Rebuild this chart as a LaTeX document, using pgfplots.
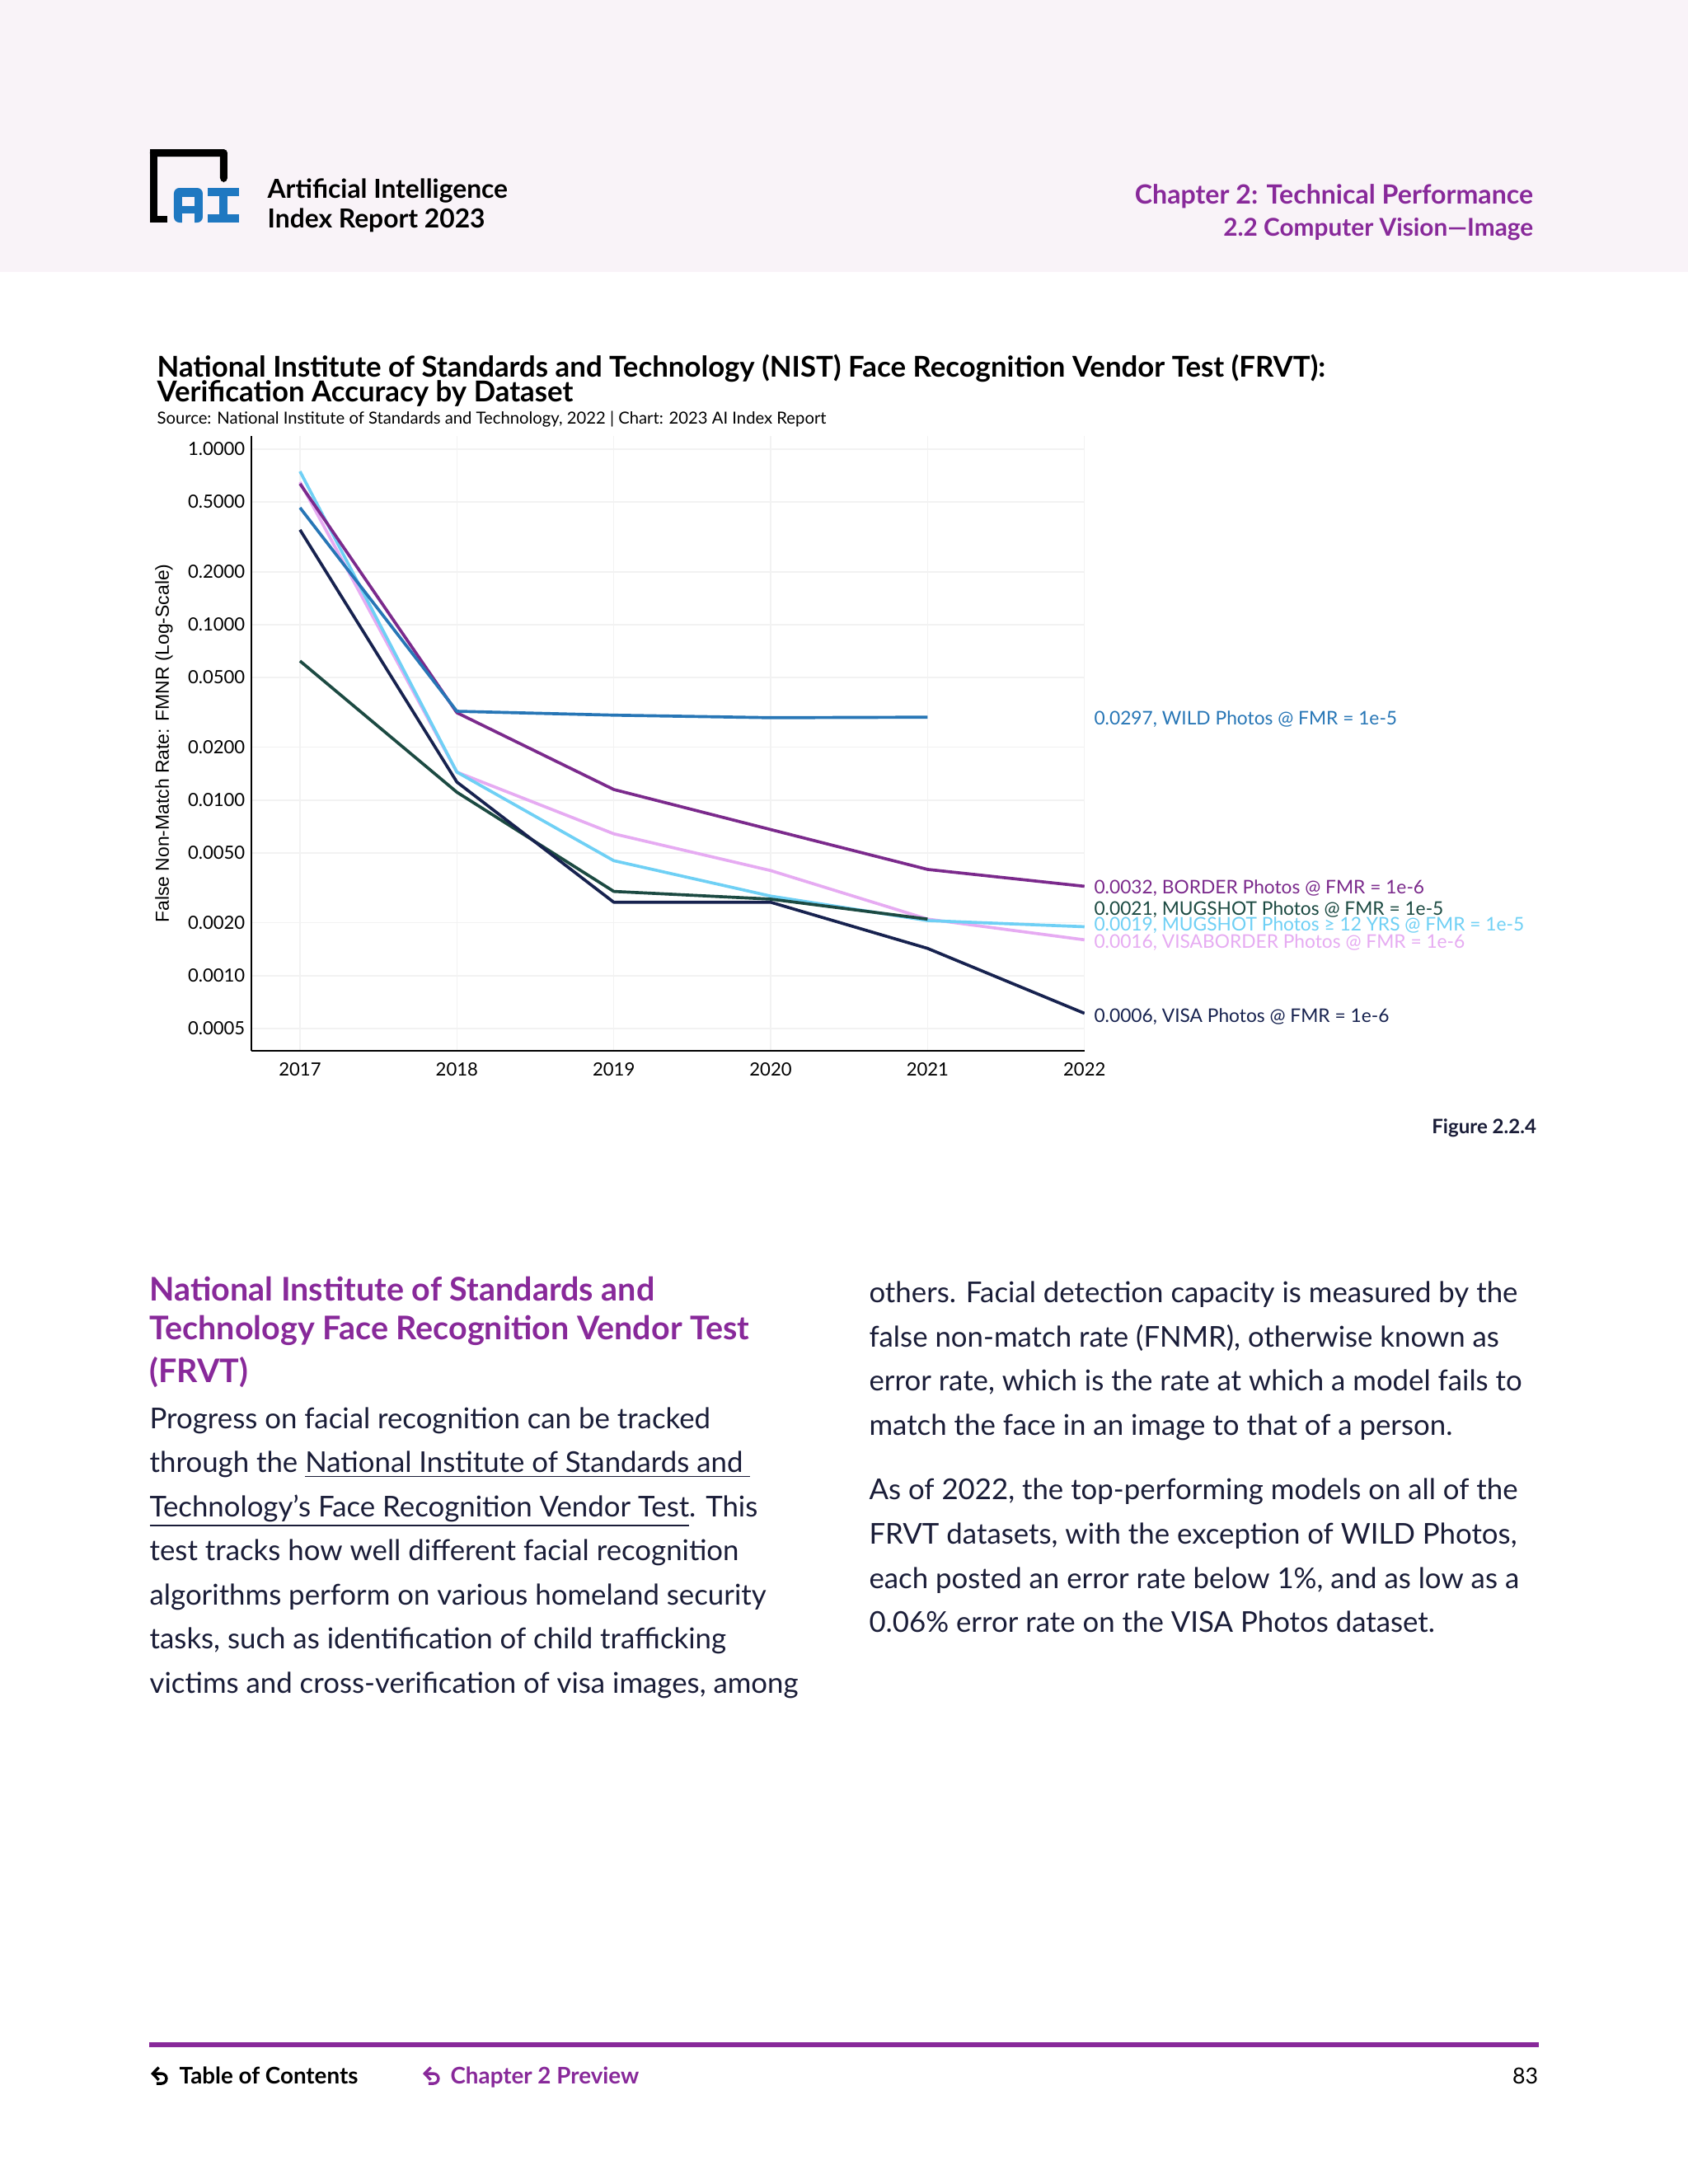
\documentclass[border=0pt]{standalone}
\usepackage{fontspec}
\setmainfont{Lato}
\newfontfamily\labfont{Liberation Sans}
\usepackage{pgfplots}
\pgfplotsset{compat=1.18}
\usetikzlibrary{arrows.meta}

\definecolor{bandbg}{HTML}{F9F3F8}
\definecolor{aiblue}{HTML}{1F78C1}
\definecolor{accent}{HTML}{88299A}
\definecolor{bodytxt}{HTML}{1A1D38}
\definecolor{gridc}{HTML}{F2F2F2}
\definecolor{cwild}{HTML}{2776B6}
\definecolor{cborder}{HTML}{7B2A8C}
\definecolor{cmug}{HTML}{1C4A42}
\definecolor{cmugtw}{HTML}{6FD0F5}
\definecolor{cvisab}{HTML}{E6ABF2}
\definecolor{cvisa}{HTML}{17224F}

\newcommand{\fs}[1]{\fontsize{#1}{#1}\selectfont}

\begin{document}
\begin{tikzpicture}
\useasboundingbox (0,0) rectangle (612pt,-792pt);
\begin{scope}[x=0.298828pt,y=-0.298868pt]
  \fill[white] (0,0) rectangle (2048,2650);
  \fill[bandbg] (0,0) rectangle (2048,330);
  % logo
  \fill[black, rounded corners=1.5] (182,181) rectangle (276,190);
  \fill[black] (182,181) rectangle (191,270);
  \fill[black] (182,262) rectangle (203,270);
  \fill[black, rounded corners=1.5] (267,181) rectangle (276,221);
  \fill[aiblue, rounded corners=2] (211,228) rectangle (246,270);
  \fill[bandbg] (221,239) rectangle (236,250);
  \fill[bandbg] (221,259) rectangle (236,271);
  \fill[aiblue] (252,228) rectangle (290,238);
  \fill[aiblue] (266,228) rectangle (276,270);
  \fill[aiblue] (252,260) rectangle (290,270);
  \node[anchor=base west, inner sep=0pt, font=\fs{9.5}\bfseries] at (324,240) {Artificial Intelligence};
  \node[anchor=base west, inner sep=0pt, font=\fs{9.5}\bfseries] at (324,276) {Index Report 2023};
  \node[anchor=base east, inner sep=0pt, font=\fs{9.6}\bfseries, text=accent] at (1861,247) {Chapter 2: Technical Performance};
  \node[anchor=base east, inner sep=0pt, font=\fs{8.9}\bfseries, text=accent] at (1861,286) {2.2 Computer Vision—Image};
  % chart titles
  \node[anchor=base west, inner sep=0pt, font=\fs{10.4}\bfseries] at (190,457) {National Institute of Standards and Technology (NIST) Face Recognition Vendor Test (FRVT):};
  \node[anchor=base west, inner sep=0pt, font=\fs{10.4}\bfseries] at (190,487) {Verification Accuracy by Dataset};
  \node[anchor=base west, inner sep=0pt, font=\fs{6.05}] at (190,514) {Source: National Institute of Standards and Technology, 2022 | Chart: 2023 AI Index Report};
  \coordinate (O) at (305,1275);
\end{scope}

\begin{axis}[
  at={(O)}, anchor=south west, scale only axis,
  width=302.1pt, height=223.0pt,
  xmin=2016.69, xmax=2022,
  ymode=log, ymin=0.000373, ymax=1.19,
  axis x line*=bottom, axis y line*=left,
  axis line style={-, black, line width=0.8pt},
  xtick={2017,2018,2019,2020,2021,2022},
  xticklabels={2017,2018,2019,2020,2021,2022},
  ytick={0.0005,0.001,0.002,0.005,0.01,0.02,0.05,0.1,0.2,0.5,1},
  yticklabels={0.0005,0.0010,0.0020,0.0050,0.0100,0.0200,0.0500,0.1000,0.2000,0.5000,1.0000},
  major tick length=0pt, minor tick length=0pt,
  xmajorgrids, ymajorgrids,
  grid style={line width=0.4pt, gridc},
  /pgf/number format/assume math mode=true,
  tick label style={font=\fs{6.6}, inner sep=0pt},
  yticklabel style={anchor=east, xshift=-2.1pt},
  xticklabel style={anchor=north, yshift=-4pt},
  every axis plot/.append style={line width=1.1pt, line join=round, mark=none},
]
\addplot[cvisab] coordinates {(2017,0.649) (2018,0.01445) (2019,0.00643) (2020,0.00397) (2021,0.0021) (2022,0.0016)};
\addplot[cmugtw] coordinates {(2017,0.747) (2018,0.01445) (2019,0.00452) (2020,0.00284) (2021,0.00206) (2022,0.0019)};
\addplot[cmug] coordinates {(2017,0.0621) (2018,0.0111) (2019,0.00302) (2020,0.00273) (2021,0.0021)};
\addplot[cvisa] coordinates {(2017,0.347) (2018,0.01268) (2019,0.00262) (2020,0.00262) (2021,0.00143) (2022,0.00061)};
\addplot[cborder] coordinates {(2017,0.635) (2018,0.0315) (2019,0.0115) (2020,0.0068) (2021,0.00403) (2022,0.00323)};
\addplot[cwild] coordinates {(2017,0.464) (2018,0.0321) (2019,0.0305) (2020,0.0295) (2021,0.0297)};
\end{axis}

\begin{scope}[x=0.298828pt,y=-0.298868pt]
  \node[rotate=90, inner sep=0pt, font=\labfont\fs{6.85}] at (199,902) {False Non-Match Rate: FMNR (Log-Scale)};
  \node[anchor=base west, inner sep=0pt, font=\fs{6.8}, text=cwild] at (1327,879) {0.0297, WILD Photos @ FMR = 1e-5};
  \node[anchor=base west, inner sep=0pt, font=\fs{6.8}, text=cborder] at (1327,1084) {0.0032, BORDER Photos @ FMR = 1e-6};
  \node[anchor=base west, inner sep=0pt, font=\fs{6.8}, text=cmug] at (1327,1110) {0.0021, MUGSHOT Photos @ FMR = 1e-5};
  \node[anchor=base west, inner sep=0pt, font=\fs{6.8}, text=cmugtw] at (1327,1129) {0.0019, MUGSHOT Photos ≥ 12 YRS @ FMR = 1e-5};
  \node[anchor=base west, inner sep=0pt, font=\fs{6.8}, text=cvisab] at (1327,1150) {0.0016, VISABORDER Photos @ FMR = 1e-6};
  \node[anchor=base west, inner sep=0pt, font=\fs{6.8}, text=cvisa] at (1327,1240) {0.0006, VISA Photos @ FMR = 1e-6};
  \node[anchor=base east, inner sep=0pt, font=\fs{7.2}\bfseries, text=bodytxt] at (1865,1375) {Figure 2.2.4};

  % body text
  \begin{scope}[every node/.style={anchor=base west, inner sep=0pt}]
    \node[font=\fs{11.8}\bfseries, text=accent] at (181,1578) {National Institute of Standards and};
    \node[font=\fs{11.8}\bfseries, text=accent] at (181,1625) {Technology Face Recognition Vendor Test};
    \node[font=\fs{11.8}\bfseries, text=accent] at (181,1677) {(FRVT)};
    \node[font=\fs{10.4}, text=bodytxt] at (181,1733) {Progress on facial recognition can be tracked};
    \node[font=\fs{10.4}, text=bodytxt] at (181,1786.5) {through the \underline{National Institute of Standards and\ }};
    \node[font=\fs{10.4}, text=bodytxt] at (181,1840) {\underline{Technology’s Face Recognition Vendor Test}. This};
    \node[font=\fs{10.4}, text=bodytxt] at (181,1893.5) {test tracks how well different facial recognition};
    \node[font=\fs{10.4}, text=bodytxt] at (181,1947) {algorithms perform on various homeland security};
    \node[font=\fs{10.4}, text=bodytxt] at (181,2000.5) {tasks, such as identification of child trafficking};
    \node[font=\fs{10.4}, text=bodytxt] at (181,2054) {victims and cross-verification of visa images, among};
    \node[font=\fs{10.4}, text=bodytxt] at (1054,1580) {others. Facial detection capacity is measured by the};
    \node[font=\fs{10.4}, text=bodytxt] at (1054,1634) {false non-match rate (FNMR), otherwise known as};
    \node[font=\fs{10.4}, text=bodytxt] at (1054,1687.5) {error rate, which is the rate at which a model fails to};
    \node[font=\fs{10.4}, text=bodytxt] at (1054,1741) {match the face in an image to that of a person.};
    \node[font=\fs{10.4}, text=bodytxt] at (1054,1819.5) {As of 2022, the top-performing models on all of the};
    \node[font=\fs{10.4}, text=bodytxt] at (1054,1873) {FRVT datasets, with the exception of WILD Photos,};
    \node[font=\fs{10.4}, text=bodytxt] at (1054,1927) {each posted an error rate below 1\%, and as low as a};
    \node[font=\fs{10.4}, text=bodytxt] at (1054,1980) {0.06\% error rate on the VISA Photos dataset.};
  \end{scope}

  % footer
  \fill[accent] (181,2478) rectangle (1867,2484);
  \draw[line width=1pt, {Straight Barb[length=2.2pt, width=4.5pt]}-] (183,2516) -- (196,2516) arc[start angle=-90, end angle=90, radius=6] -- (190,2528);
  \draw[accent, line width=1pt, {Straight Barb[length=2.2pt, width=4.5pt]}-] (513,2516) -- (526,2516) arc[start angle=-90, end angle=90, radius=6] -- (520,2528);
  \node[anchor=base west, inner sep=0pt, font=\fs{8.3}\bfseries] at (217,2528) {Table of Contents};
  \node[anchor=base west, inner sep=0pt, font=\fs{8.3}\bfseries, text=accent] at (546,2528) {Chapter 2 Preview};
  \node[anchor=base east, inner sep=0pt, font=\fs{8}] at (1867,2528) {83};
\end{scope}
\end{tikzpicture}
\end{document}
